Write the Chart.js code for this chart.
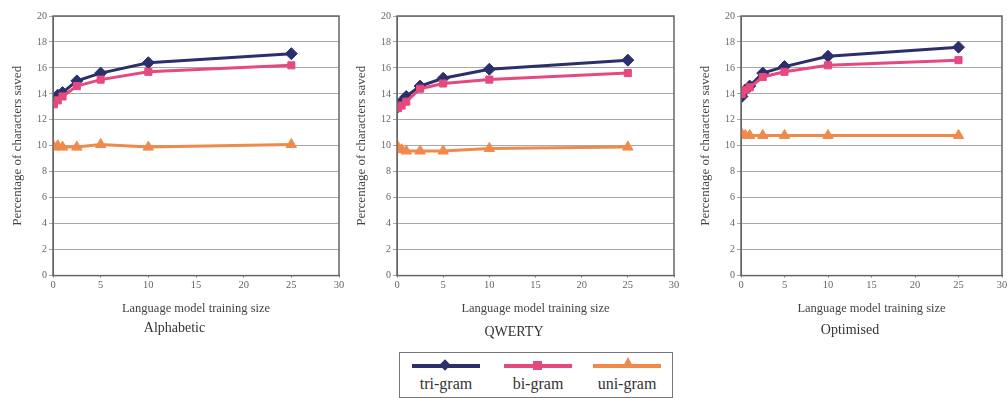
<!DOCTYPE html>
<html>
<head>
<meta charset="utf-8">
<script src="https://cdn.jsdelivr.net/npm/chart.js@4/dist/chart.umd.min.js"></script>
<style>
  html, body { margin: 0; padding: 0; background: #fff; }
  body { width: 1007px; height: 398px; position: relative; overflow: hidden; font-family: "Liberation Serif", "DejaVu Serif", serif; }
  .panel { position: absolute; top: 0; height: 345px; }
  .legend { position: absolute; left: 399px; top: 352px; width: 274px; height: 46px; border: 1px solid #777; box-sizing: border-box; }
  .item { position: absolute; top: 0; width: 70px; height: 44px; }
  .item .ln { position: absolute; left: 0; top: 11px; width: 68px; height: 4px; }
  .item .lb { position: absolute; left: -15px; width: 98px; top: 22px; text-align: center; font-size: 16px; color: #333; }
  .mk { position: absolute; }
</style>
</head>
<body>
<div class="panel" style="left:0;width:347px"><canvas id="c1"></canvas></div>
<div class="panel" style="left:344px;width:338px"><canvas id="c2"></canvas></div>
<div class="panel" style="left:688px;width:324px"><canvas id="c3"></canvas></div>

<div class="legend">
  <div class="item" style="left:12px">
    <div class="ln" style="background:#2b2f6b"></div>
    <div class="mk" style="left:29px;top:8px;width:8px;height:8px;background:#2b2f6b;transform:rotate(45deg)"></div>
    <div class="lb">tri-gram</div>
  </div>
  <div class="item" style="left:104px">
    <div class="ln" style="background:#e6497f"></div>
    <div class="mk" style="left:29px;top:8px;width:9px;height:9px;background:#e6497f"></div>
    <div class="lb">bi-gram</div>
  </div>
  <div class="item" style="left:193px">
    <div class="ln" style="background:#f08a4b"></div>
    <div class="mk" style="left:29px;top:4px;width:0;height:0;border-left:6px solid transparent;border-right:6px solid transparent;border-bottom:11px solid #f08a4b"></div>
    <div class="lb">uni-gram</div>
  </div>
</div>

<script>
// training sizes (x) shared by all three layouts
const sizes = [0.1, 0.5, 1, 2.5, 5, 10, 25];

const alphaTri = [13.6, 13.9, 14.1, 15.0, 15.6, 16.4, 17.1];
const alphaBi  = [13.2, 13.5, 13.8, 14.6, 15.1, 15.7, 16.2];
const alphaUni = [9.9, 10.0, 9.9, 9.9, 10.1, 9.9, 10.1];

const qwertyTri = [13.0, 13.4, 13.8, 14.6, 15.2, 15.9, 16.6];
const qwertyBi  = [12.9, 13.1, 13.4, 14.4, 14.8, 15.1, 15.6];
const qwertyUni = [9.9, 9.7, 9.6, 9.6, 9.6, 9.8, 9.9];

const optTri = [13.8, 14.3, 14.6, 15.6, 16.1, 16.9, 17.6];
const optBi  = [14.0, 14.3, 14.5, 15.3, 15.7, 16.2, 16.6];
const optUni = [10.9, 10.8, 10.8, 10.8, 10.8, 10.8, 10.8];

const yTicks = [0, 2, 4, 6, 8, 10, 12, 14, 16, 18, 20];
const xTicks = [0, 5, 10, 15, 20, 25, 30];

const COLORS = { tri: '#2b2f6b', bi: '#e6497f', uni: '#f08a4b' };
const SERIF = '"Liberation Serif", "DejaVu Serif", serif';

const toPts = (vals) => sizes.map((x, i) => ({ x, y: vals[i] }));

// box round the plot area
const frame = {
  id: 'frame',
  afterDraw(chart) {
    const a = chart.chartArea, ctx = chart.ctx;
    ctx.save();
    ctx.strokeStyle = '#666';
    ctx.lineWidth = 1.5;
    ctx.strokeRect(a.left, a.top, a.right - a.left, a.bottom - a.top);
    ctx.restore();
  }
};

const series = (label, vals, color, shape) => ({
  label, data: toPts(vals),
  borderColor: color, backgroundColor: color,
  borderWidth: 3, pointStyle: shape,
  pointRadius: shape === 'rect' ? 5 : 6, pointBorderWidth: 1,
  tension: 0
});

const makePanel = (id, title, tri, bi, uni, padRight, subPad) => {
  new Chart(document.getElementById(id), {
    type: 'line',
    data: {
      datasets: [
        series('uni-gram', uni, COLORS.uni, 'triangle'),
        series('bi-gram', bi, COLORS.bi, 'rect'),
        series('tri-gram', tri, COLORS.tri, 'rectRot'),
      ]
    },
    options: {
      responsive: true, maintainAspectRatio: false, animation: false,
      layout: { padding: { top: 16, right: padRight, left: 10, bottom: 0 } },
      plugins: {
        legend: { display: false },
        tooltip: { enabled: false },
        title: {
          display: true, position: 'bottom', text: title, color: '#333',
          font: { family: SERIF, size: 14, weight: 'normal' }, padding: { top: 4 + subPad, bottom: 8 - subPad }
        }
      },
      scales: {
        x: {
          type: 'linear', min: 0, max: 30,
          afterBuildTicks: s => { s.ticks = xTicks.map(v => ({ value: v })); },
          ticks: { color: '#666', font: { family: SERIF, size: 10.5 }, padding: 1 },
          grid: { drawOnChartArea: false, tickLength: 2, color: '#888' },
          border: { color: '#666' },
          title: { display: true, text: 'Language model training size', color: '#444', font: { family: SERIF, size: 12.5 }, padding: { top: 9, bottom: 0 } }
        },
        y: {
          min: 0, max: 20,
          afterBuildTicks: s => { s.ticks = yTicks.map(v => ({ value: v })); },
          afterFit: s => { s.width = 43; },
          ticks: { color: '#666', font: { family: SERIF, size: 10 }, padding: 2 },
          grid: { color: '#a8a8a8', lineWidth: 1, tickLength: 4 },
          border: { color: '#666' },
          title: { display: true, text: 'Percentage of characters saved', color: '#444', font: { family: SERIF, size: 13 }, padding: { top: 0, bottom: 4 } }
        }
      }
    },
    plugins: [frame]
  });
};

makePanel('c1', 'Alphabetic', alphaTri, alphaBi, alphaUni, 8, 0);
makePanel('c2', 'QWERTY', qwertyTri, qwertyBi, qwertyUni, 8, 4);
makePanel('c3', 'Optimised', optTri, optBi, optUni, 10, 2);
</script>
</body>
</html>
